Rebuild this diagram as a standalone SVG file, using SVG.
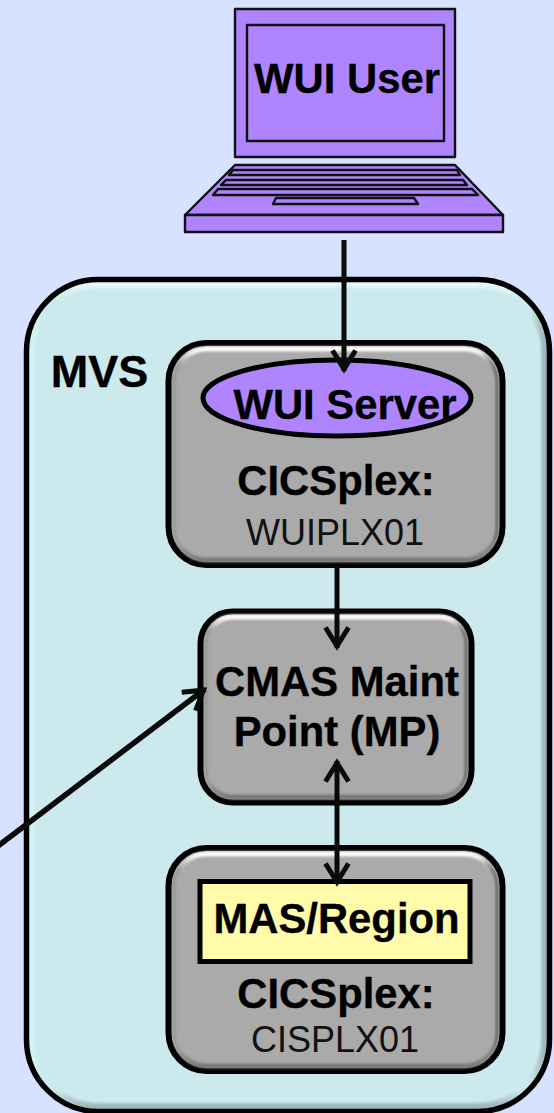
<svg xmlns="http://www.w3.org/2000/svg" width="554" height="1113" viewBox="0 0 554 1113">
<style>
text{font-family:"Liberation Sans",Arial,sans-serif;fill:#000;text-anchor:middle}
.b{font-weight:bold;font-size:41.8px;stroke:#000;stroke-width:.35}
.r{font-size:36px;fill:#111}
.lap{fill:#AE85FF;stroke:#111;stroke-width:2.4;stroke-linejoin:round}
.plate{fill:#AAAAAA;stroke:#000;stroke-width:6}
.hi{fill:none;stroke:url(#bevelV);stroke-width:5;filter:url(#soft)}
.side{fill:none;stroke:url(#bevelH);stroke-width:3;filter:url(#soft)}
.conn{fill:none;stroke:#0a0a0a;stroke-width:5}
</style>
<defs>
<filter id="soft" x="-5%" y="-5%" width="110%" height="110%"><feGaussianBlur stdDeviation="1"/></filter>
<linearGradient id="bevelV" x1="0" y1="0" x2="0" y2="1">
<stop offset="0" stop-color="#fff"/><stop offset=".08" stop-color="#fff" stop-opacity="0"/>
<stop offset=".92" stop-color="#777" stop-opacity="0"/><stop offset="1" stop-color="#777"/>
</linearGradient>
<linearGradient id="bevelH" x1="0" y1="0" x2="1" y2="0">
<stop offset="0" stop-color="#777" stop-opacity=".4"/><stop offset=".05" stop-color="#777" stop-opacity="0"/>
<stop offset=".95" stop-color="#666" stop-opacity="0"/><stop offset="1" stop-color="#666"/>
</linearGradient>
<linearGradient id="outerH" x1="0" y1="0" x2="1" y2="0">
<stop offset="0" stop-color="#D2F4F4"/><stop offset=".03" stop-color="#D2F4F4" stop-opacity="0"/>
<stop offset=".97" stop-color="#9DB5BA" stop-opacity="0"/><stop offset="1" stop-color="#9DB5BA"/>
</linearGradient>
<linearGradient id="outerV" x1="0" y1="0" x2="0" y2="1">
<stop offset="0" stop-color="#E6F8FA"/><stop offset=".02" stop-color="#E6F8FA" stop-opacity="0"/>
<stop offset=".98" stop-color="#9DB5BA" stop-opacity="0"/><stop offset="1" stop-color="#9DB5BA"/>
</linearGradient>
<marker id="head" markerUnits="userSpaceOnUse" markerWidth="30" markerHeight="32" refX="23" refY="14" orient="auto-start-reverse" viewBox="0 0 30 32" overflow="visible">
<path d="M2.500,2.500 L21,14 L2.500,25.500" fill="none" stroke="#0a0a0a" stroke-width="5"/>
</marker>
</defs>
<rect width="554" height="1113" fill="#D6E2FF"/>
<g id="mvs">
<rect x="26.500" y="279.500" width="523" height="832" rx="72" fill="#CCE9EE"/>
<rect x="31" y="284" width="514" height="823" rx="68" fill="none" stroke="url(#outerH)" stroke-width="8" filter="url(#soft)"/>
<rect x="31" y="284" width="514" height="823" rx="68" fill="none" stroke="url(#outerV)" stroke-width="8" filter="url(#soft)"/>
<rect x="26.500" y="279.500" width="523" height="832" rx="72" fill="none" stroke="#000" stroke-width="5.500"/>
<text class="b" x="99.500" y="387" style="font-size:45px">MVS</text>
</g>
<g id="wui-user">
<rect class="lap" x="235" y="9" width="220" height="148"/>
<rect class="lap" x="247" y="25" width="197" height="116"/>
<path class="lap" d="M235,165 H455 L503,215 H185 Z"/>
<rect class="lap" x="185" y="215" width="318" height="17"/>
<path class="lap" d="M233,170 H457 L460,175 H229 Z"/>
<path class="lap" d="M226,180 H463 L467,185 H221 Z"/>
<path class="lap" d="M218,189 H472 L478,195 H213 Z"/>
<path class="lap" d="M276,198 H414 L418,204 H273 Z"/>
<text class="b" x="347" y="93">WUI User</text>
</g>
<g id="wuiplx01">
<rect class="plate" x="168.500" y="343" width="334" height="222" rx="38"/>
<rect class="hi" x="174" y="349" width="323" height="211" rx="33"/>
<rect class="side" x="174" y="349" width="323" height="211" rx="33"/>
<ellipse cx="337" cy="398" rx="134" ry="38" fill="#AE85FF" stroke="#000" stroke-width="5"/>
<text class="b" x="345" y="419">WUI Server</text>
<text class="b" x="336" y="495">CICSplex:</text>
<text class="r" x="335" y="545">WUIPLX01</text>
</g>
<g id="cmas">
<rect class="plate" x="200.500" y="611.500" width="271" height="191" rx="32"/>
<rect class="hi" x="206" y="617" width="260" height="180" rx="27"/>
<rect class="side" x="206" y="617" width="260" height="180" rx="27"/>
<text class="b" x="337" y="696">CMAS Maint</text>
<text class="b" x="337" y="746">Point (MP)</text>
</g>
<g id="cisplx01">
<rect class="plate" x="168.500" y="848" width="334" height="223" rx="38"/>
<rect class="hi" x="174" y="854" width="323" height="212" rx="33"/>
<rect class="side" x="174" y="854" width="323" height="212" rx="33"/>
<rect x="200" y="881.500" width="270" height="80" fill="#FFFBAA" stroke="#000" stroke-width="5"/>
<text class="b" x="336.500" y="933">MAS/Region</text>
<text class="b" x="336" y="1008">CICSplex:</text>
<text class="r" x="335" y="1052">CISPLX01</text>
</g>
<g id="connectors">
<line class="conn" x1="344" y1="240" x2="344" y2="371" marker-end="url(#head)"/>
<line class="conn" x1="337" y1="566" x2="337" y2="648" marker-end="url(#head)"/>
<line class="conn" x1="337" y1="761" x2="337" y2="884" marker-start="url(#head)" marker-end="url(#head)"/>
<line class="conn" x1="-2" y1="846" x2="205" y2="689" marker-end="url(#head)" style="stroke-width:5.500"/>
</g>
</svg>
